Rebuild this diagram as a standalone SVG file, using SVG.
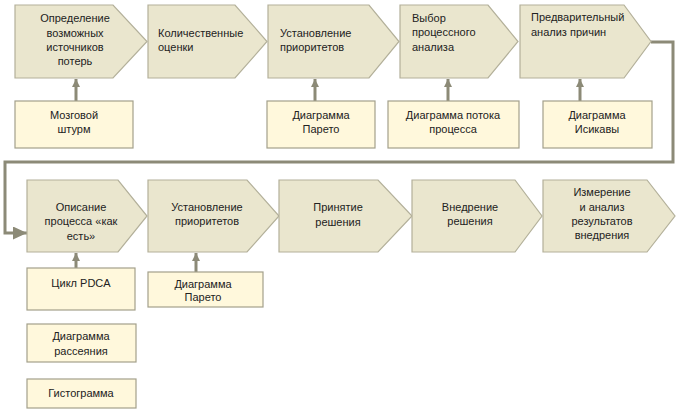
<svg xmlns="http://www.w3.org/2000/svg" width="680" height="413" viewBox="0 0 680 413">
<defs>
<style>
.step{fill:#EAE6CE;stroke:#B3B09A;stroke-width:1.2}
.tool{fill:#FFF8DC;stroke:#A3A08B;stroke-width:1.2}
.t{font-family:"Liberation Sans",Arial,sans-serif;font-size:11px;fill:#222}
.c{text-anchor:middle}
.conn{fill:none;stroke:#8C8A77;stroke-width:3}
</style>
<marker id="up" markerUnits="userSpaceOnUse" markerWidth="9" markerHeight="8" refX="8" refY="4" orient="auto">
<path d="M0,0 L8,4 L0,8 Z" fill="#8C8A77"/>
</marker>
<marker id="big" markerUnits="userSpaceOnUse" markerWidth="15" markerHeight="13" refX="14" refY="6.5" orient="auto">
<path d="M0,0 L14,6.5 L0,13 Z" fill="#8C8A77"/>
</marker>
</defs>
<rect width="680" height="413" fill="#fff"/>

<g id="connectors">
<path class="conn" d="M651,42 H673 V162 H5 V233 H27" marker-end="url(#big)"/>
<line class="conn" x1="76" y1="101" x2="76" y2="79" marker-end="url(#up)"/>
<line class="conn" x1="315" y1="101" x2="315" y2="79" marker-end="url(#up)"/>
<line class="conn" x1="448" y1="101" x2="448" y2="79" marker-end="url(#up)"/>
<line class="conn" x1="580" y1="101" x2="580" y2="79" marker-end="url(#up)"/>
<line class="conn" x1="76" y1="268" x2="76" y2="253" marker-end="url(#up)"/>
<line class="conn" x1="196" y1="272" x2="196" y2="253" marker-end="url(#up)"/>
</g>

<g id="n1">
<path class="step" d="M15,5 H113 L147,41.5 L113,78 H15 Z"/>
<text class="t c" x="75" y="22">Определение</text>
<text class="t c" x="75" y="37">возможных</text>
<text class="t c" x="75" y="51">источников</text>
<text class="t c" x="75" y="65">потерь</text>
</g>
<g id="n2">
<path class="step" d="M148,5 H235 L267,41.5 L235,78 H148 Z"/>
<text class="t" x="158" y="37">Количественные</text>
<text class="t" x="158" y="51">оценки</text>
</g>
<g id="n3">
<path class="step" d="M268,5 H369 L399,41.5 L369,78 H268 Z"/>
<text class="t" x="280" y="37">Установление</text>
<text class="t" x="280" y="51">приоритетов</text>
</g>
<g id="n4">
<path class="step" d="M400,5 H488 L518,41.5 L488,78 H400 Z"/>
<text class="t" x="412" y="22">Выбор</text>
<text class="t" x="412" y="36">процессного</text>
<text class="t" x="412" y="51">анализа</text>
</g>
<g id="n5">
<path class="step" d="M520,5 H624 L651,41.5 L624,78 H520 Z"/>
<text class="t" x="531" y="21">Предварительный</text>
<text class="t" x="531" y="36">анализ причин</text>
</g>

<g id="b1">
<rect class="tool" x="15" y="101" width="118" height="47"/>
<text class="t c" x="74" y="119">Мозговой</text>
<text class="t c" x="74" y="133">штурм</text>
</g>
<g id="b2">
<rect class="tool" x="267" y="101" width="108" height="47"/>
<text class="t c" x="321" y="119">Диаграмма</text>
<text class="t c" x="321" y="133">Парето</text>
</g>
<g id="b3">
<rect class="tool" x="388" y="101" width="131" height="47"/>
<text class="t c" x="453" y="119">Диаграмма потока</text>
<text class="t c" x="453" y="133">процесса</text>
</g>
<g id="b4">
<rect class="tool" x="543" y="101" width="109" height="47"/>
<text class="t c" x="597" y="119">Диаграмма</text>
<text class="t c" x="597" y="133">Исикавы</text>
</g>

<g id="n6">
<path class="step" d="M27,180 H118 L147,216 L118,252 H27 Z"/>
<text class="t c" x="81" y="211">Описание</text>
<text class="t c" x="81" y="225">процесса «как</text>
<text class="t c" x="81" y="240">есть»</text>
</g>
<g id="n7">
<path class="step" d="M148,180 H247 L279,216 L247,252 H148 Z"/>
<text class="t c" x="207" y="211">Установление</text>
<text class="t c" x="207" y="225">приоритетов</text>
</g>
<g id="n8">
<path class="step" d="M279,180 H378 L412,216 L378,252 H279 Z"/>
<text class="t c" x="338" y="211">Принятие</text>
<text class="t c" x="338" y="226">решения</text>
</g>
<g id="n9">
<path class="step" d="M412,180 H515 L542,216 L515,252 H412 Z"/>
<text class="t c" x="470" y="211">Внедрение</text>
<text class="t c" x="470" y="225">решения</text>
</g>
<g id="n10">
<path class="step" d="M543,180 H647 L675,216 L647,252 H543 Z"/>
<text class="t c" x="602" y="196">Измерение</text>
<text class="t c" x="602" y="211">и анализ</text>
<text class="t c" x="602" y="225">результатов</text>
<text class="t c" x="602" y="239">внедрения</text>
</g>

<g id="b5">
<rect class="tool" x="27" y="268" width="108" height="42"/>
<text class="t c" x="81" y="287">Цикл PDCA</text>
</g>
<g id="b6">
<rect class="tool" x="148" y="272" width="115" height="35"/>
<text class="t c" x="203" y="288">Диаграмма</text>
<text class="t c" x="203" y="301">Парето</text>
</g>
<g id="b7">
<rect class="tool" x="27" y="324" width="109" height="38"/>
<text class="t c" x="81" y="340">Диаграмма</text>
<text class="t c" x="81" y="355">рассеяния</text>
</g>
<g id="b8">
<rect class="tool" x="27" y="379" width="109" height="29"/>
<text class="t c" x="81" y="397">Гистограмма</text>
</g>
</svg>
